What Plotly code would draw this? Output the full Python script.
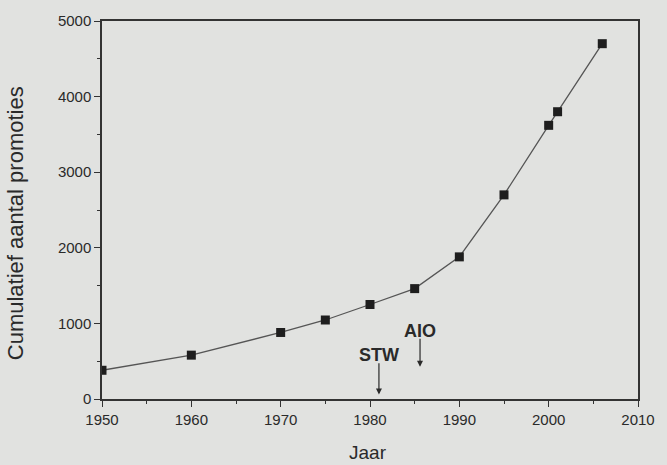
import plotly.graph_objects as go

years = [1950, 1960, 1970, 1975, 1980, 1985, 1990, 1995, 2000, 2001, 2006]
promoties = [380, 580, 880, 1045, 1250, 1460, 1880, 2700, 3620, 3800, 4700]

x_ticks = [1950, 1960, 1970, 1980, 1990, 2000, 2010]
y_ticks = [0, 1000, 2000, 3000, 4000, 5000]

events = ["STW", "AIO"]
event_years = [1981, 1985.6]
event_text_y = [580, 905]
event_arrow_top = [492, 818]
event_arrow_tip = [59, 427]

FONT = "Liberation Sans, Arial, sans-serif"
BG = "#e1e2e0"
INK = "#2a2a2a"

fig = go.Figure()
fig.add_trace(go.Scatter(
    x=years, y=promoties, mode="lines+markers",
    line=dict(color="#555555", width=1.3),
    marker=dict(symbol="square", size=9, color="#1e1e1e"),
    showlegend=False,
))

for name, ex, ty, top, tip in zip(events, event_years, event_text_y, event_arrow_top, event_arrow_tip):
    fig.add_annotation(x=ex, y=ty, xref="x", yref="y", text="<b>%s</b>" % name,
                       showarrow=False, font=dict(family=FONT, size=18, color=INK),
                       xanchor="center", yanchor="middle")
    fig.add_annotation(x=ex, y=tip, xref="x", yref="y", ax=ex, ay=top,
                       axref="x", ayref="y", text="", showarrow=True,
                       arrowhead=2, arrowsize=1, arrowwidth=1.2, arrowcolor=INK)

fig.add_annotation(x=0, y=0.465, xref="paper", yref="paper", xshift=-87,
                   text="Cumulatief aantal promoties", textangle=-90, showarrow=False,
                   font=dict(family=FONT, size=22, color=INK),
                   xanchor="center", yanchor="middle")
fig.add_annotation(x=0.497, y=-0.141, xref="paper", yref="paper",
                   text="Jaar", showarrow=False,
                   font=dict(family=FONT, size=19, color=INK),
                   xanchor="center", yanchor="middle")

axis_common = dict(showgrid=False, zeroline=False, showline=True, mirror=True,
                   linecolor="#333333", linewidth=1.5, ticks="outside", ticklen=6,
                   tickwidth=1.3, tickcolor="#333333",
                   tickfont=dict(family=FONT, size=15, color=INK))

fig.update_xaxes(range=[1950, 2010], tickvals=x_ticks, ticktext=[str(v) for v in x_ticks],
                 minor=dict(ticks="outside", ticklen=3, tick0=1955, dtick=10, tickcolor="#333333"),
                 **axis_common)
fig.update_yaxes(range=[0, 5000], tickvals=y_ticks, ticktext=[str(v) for v in y_ticks],
                 minor=dict(ticks="outside", ticklen=3, tick0=500, dtick=1000, tickcolor="#333333"),
                 **axis_common)

fig.update_layout(width=667, height=465,
                  margin=dict(l=102, r=19, t=16, b=66),
                  paper_bgcolor=BG, plot_bgcolor=BG,
                  font=dict(family=FONT, color=INK))

fig.write_html("out.html", config={"displayModeBar": False},
               post_script="document.body.style.margin='0';document.body.style.background='%s';" % BG)
